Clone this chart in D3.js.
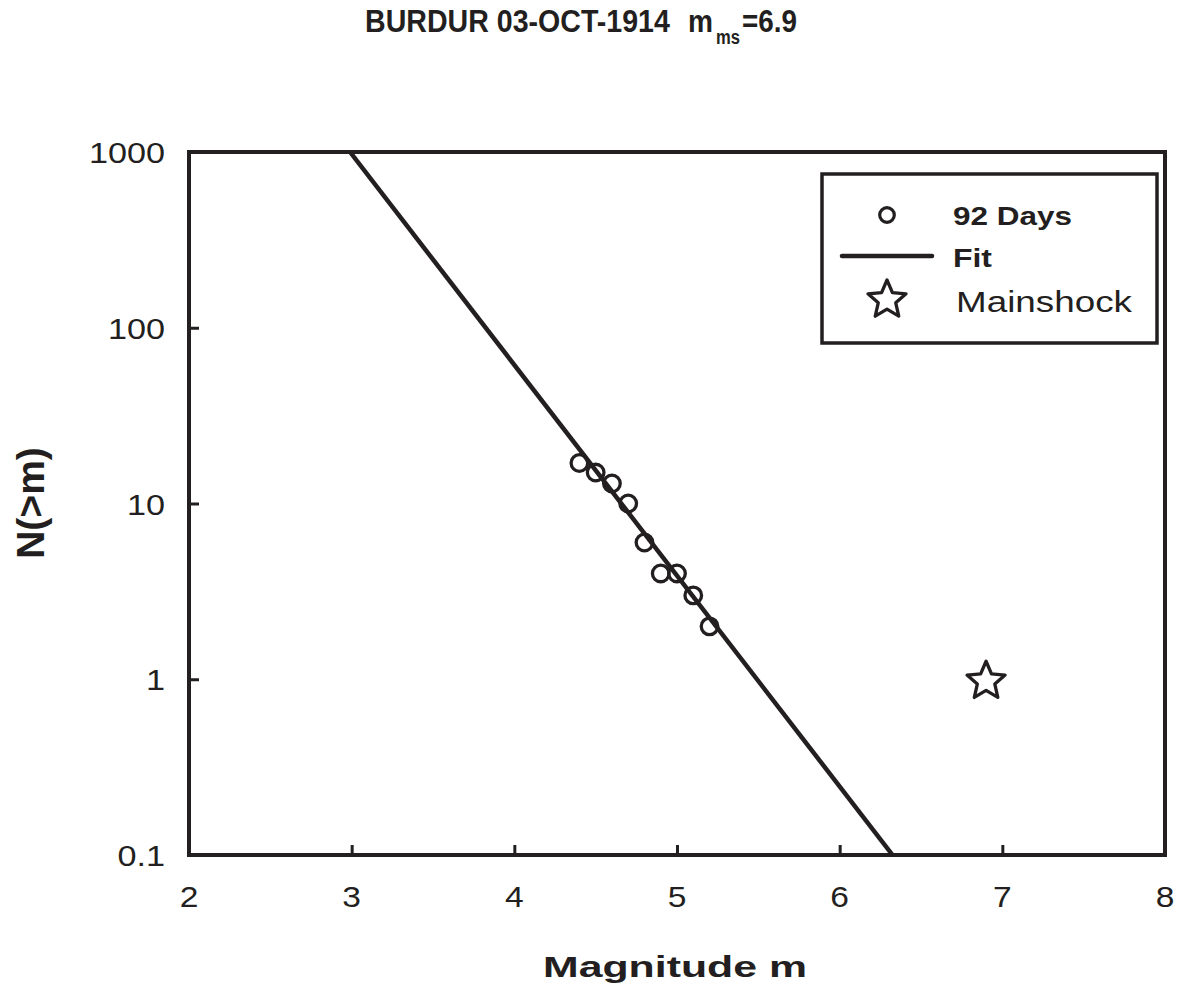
<!DOCTYPE html>
<html>
<head>
<meta charset="utf-8">
<script src="https://cdn.jsdelivr.net/npm/d3@7"></script>
<style>
  html, body { margin: 0; padding: 0; background: #fff; }
  svg { display: block; font-family: "Liberation Sans", Arial, sans-serif; }
</style>
</head>
<body>
<svg id="chart" width="1178" height="995"></svg>
<script>
// Aftershock magnitude-frequency data (92 days)
const magnitudes = [4.4, 4.5, 4.6, 4.7, 4.8, 4.9, 5.0, 5.1, 5.2];
const counts     = [17, 15, 13, 10, 6, 4, 4, 3, 2];
// Fitted Gutenberg-Richter line, end points
const fitMag   = [2.99, 6.325];
const fitCount = [1000, 0.1];
// Mainshock
const mainMag = [6.9];
const mainCount = [1];
// Axis ticks
const xTicks = [2, 3, 4, 5, 6, 7, 8];
const yTicks = [0.1, 1, 10, 100, 1000];
const yTickLabels = ["0.1", "1", "10", "100", "1000"];
const legendLabels = ["92 Days", "Fit", "Mainshock"];

const ink = "#231f20";
const svg = d3.select("#chart");
const plotL = 189, plotR = 1165, plotT = 152, plotB = 855;

const x = d3.scaleLinear().domain([2, 8]).range([plotL, plotR]);
const y = d3.scaleLog().domain([0.1, 1000]).range([plotB, plotT]);

// Title pieces: main text, magnitude symbol with subscript, value.
// Each piece is scaled to a target width and a taller, narrow face.
const titleParts = [
  { t: "BURDUR 03-OCT-1914", x: 365, y: 32, fs: 28, w: 305 },
  { t: "m", x: 688, y: 32, fs: 28, w: 25 },
  { t: "ms", x: 716, y: 44, fs: 17, w: 24 },
  { t: "=6.9", x: 742, y: 32, fs: 28, w: 55 }
];
svg.append("g").selectAll("text").data(titleParts).join("text")
  .attr("font-size", d => d.fs).attr("font-weight", "bold").attr("fill", ink)
  .text(d => d.t)
  .each(function (d) {
    const len = this.getComputedTextLength();
    d3.select(this).attr("transform", `translate(${d.x},${d.y}) scale(${d.w / len},1.15)`);
  });

// Clip for the plot area
svg.append("defs").append("clipPath").attr("id", "plotClip")
  .append("rect").attr("x", plotL).attr("y", plotT)
  .attr("width", plotR - plotL).attr("height", plotB - plotT);

// Fit line
svg.append("path")
  .datum(fitMag.map((m, i) => [m, fitCount[i]]))
  .attr("clip-path", "url(#plotClip)")
  .attr("fill", "none").attr("stroke", ink).attr("stroke-width", 4.5)
  .attr("d", d3.line().x(d => x(d[0])).y(d => y(d[1])));

// Data circles
svg.append("g").selectAll("circle")
  .data(magnitudes.map((m, i) => [m, counts[i]]))
  .join("circle")
  .attr("cx", d => x(d[0])).attr("cy", d => y(d[1])).attr("r", 8.3)
  .attr("fill", "none").attr("stroke", ink).attr("stroke-width", 3.3);

// Star symbol
const star = d3.symbol().type({
  draw(ctx, size) {
    const R = Math.sqrt(size), r = R * 0.46;
    for (let k = 0; k < 10; k++) {
      const rad = k % 2 ? r : R;
      const a = -Math.PI / 2 + k * Math.PI / 5;
      const px = rad * Math.cos(a), py = rad * Math.sin(a);
      if (k === 0) ctx.moveTo(px, py); else ctx.lineTo(px, py);
    }
    ctx.closePath();
  }
}).size(20 * 20);

svg.append("g").selectAll("path")
  .data(mainMag.map((m, i) => [m, mainCount[i]]))
  .join("path")
  .attr("transform", d => `translate(${x(d[0])},${y(d[1]) + 2})`)
  .attr("d", star)
  .attr("fill", "none").attr("stroke", ink).attr("stroke-width", 3.3)
  .attr("stroke-linejoin", "round");

// Axes (ticks pointing inward)
const xAxis = d3.axisTop(x).tickValues(xTicks).tickSize(10).tickFormat("");
svg.append("g").attr("transform", `translate(0,${plotB})`).call(xAxis)
  .call(g => g.select(".domain").remove())
  .call(g => g.selectAll("line").attr("stroke", ink).attr("stroke-width", 3));
const yAxis = d3.axisRight(y).tickValues(yTicks).tickSize(10).tickFormat("");
svg.append("g").attr("transform", `translate(${plotL},0)`).call(yAxis)
  .call(g => g.select(".domain").remove())
  .call(g => g.selectAll("line").attr("stroke", ink).attr("stroke-width", 3));

// Frame
svg.append("rect").attr("x", plotL).attr("y", plotT)
  .attr("width", plotR - plotL).attr("height", plotB - plotT)
  .attr("fill", "none").attr("stroke", ink).attr("stroke-width", 4);

// Tick labels
svg.append("g").selectAll("text").data(xTicks).join("text")
  .attr("transform", d => `translate(${x(d)},907) scale(1.12,1)`)
  .attr("text-anchor", "middle").attr("font-size", 30).attr("fill", ink)
  .text(d => d);
svg.append("g").selectAll("text").data(yTicks).join("text")
  .attr("transform", d => `translate(165,${y(d) + 11}) scale(1.14,1)`)
  .attr("text-anchor", "end").attr("font-size", 30).attr("fill", ink)
  .text((d, i) => yTickLabels[i]);

// Axis titles
svg.append("text").attr("x", 543).attr("y", 977)
  .attr("font-size", 30).attr("font-weight", "bold").attr("fill", ink)
  .attr("textLength", 264).attr("lengthAdjust", "spacingAndGlyphs")
  .text("Magnitude m");
svg.append("text")
  .attr("transform", `translate(44,503) rotate(-90)`)
  .attr("text-anchor", "middle").attr("font-size", 39).attr("font-weight", "bold").attr("fill", ink)
  .text("N(>m)");

// Legend
const lg = svg.append("g");
lg.append("rect").attr("x", 822).attr("y", 174).attr("width", 335).attr("height", 169)
  .attr("fill", "#fff").attr("stroke", ink).attr("stroke-width", 3.5);
lg.append("circle").attr("cx", 887).attr("cy", 215).attr("r", 7.3)
  .attr("fill", "none").attr("stroke", ink).attr("stroke-width", 3.2);
lg.append("line").attr("x1", 842).attr("x2", 932).attr("y1", 256).attr("y2", 256)
  .attr("stroke", ink).attr("stroke-width", 4.5).attr("stroke-linecap", "round");
lg.append("path").attr("transform", "translate(887,300)").attr("d", star)
  .attr("fill", "none").attr("stroke", ink).attr("stroke-width", 3.3).attr("stroke-linejoin", "round");
lg.append("text").attr("x", 953).attr("y", 225).attr("font-size", 25).attr("font-weight", "bold")
  .attr("fill", ink).attr("textLength", 119).attr("lengthAdjust", "spacingAndGlyphs").text(legendLabels[0]);
lg.append("text").attr("x", 953).attr("y", 267).attr("font-size", 25).attr("font-weight", "bold")
  .attr("fill", ink).attr("textLength", 39).attr("lengthAdjust", "spacingAndGlyphs").text(legendLabels[1]);
lg.append("text").attr("x", 956).attr("y", 312).attr("font-size", 29)
  .attr("fill", ink).attr("textLength", 176).attr("lengthAdjust", "spacingAndGlyphs").text(legendLabels[2]);
</script>
</body>
</html>
